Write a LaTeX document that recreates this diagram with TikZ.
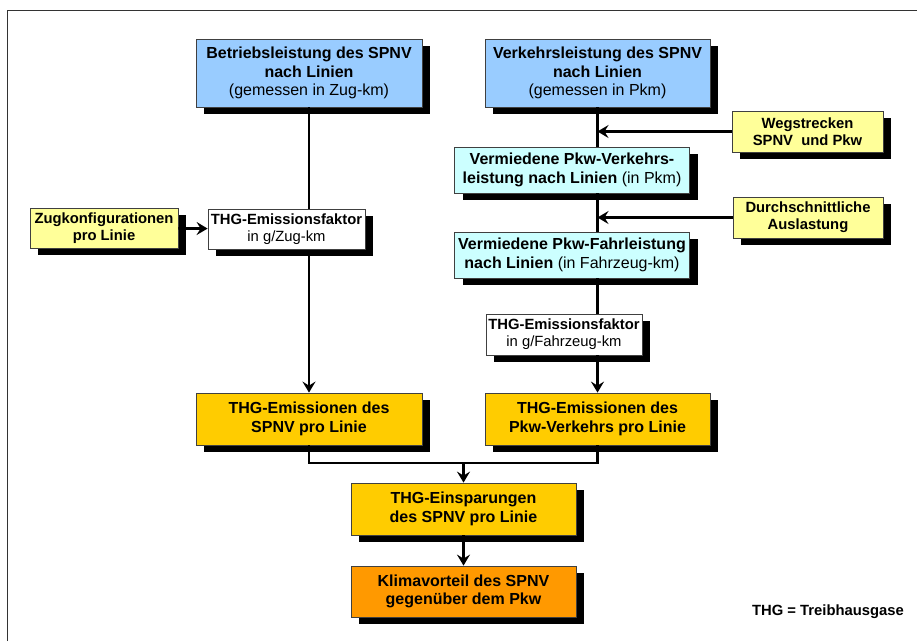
\documentclass[tikz,border=0pt]{standalone}
\usepackage{fontspec}
\setmainfont{Liberation Sans}
\usetikzlibrary{arrows.meta,shadows}

\newcommand{\bigf}{\fontsize{16}{18.5}\selectfont}
\newcommand{\smallf}{\fontsize{14.8}{17}\selectfont}

\definecolor{lblue}{HTML}{99CCFF}
\definecolor{lcyan}{HTML}{CCFFFF}
\definecolor{lyellow}{HTML}{FFFF99}
\definecolor{gold}{HTML}{FFCC00}
\definecolor{dorange}{HTML}{FF9900}

\tikzset{
  box/.style={draw=black!75, line width=0.8pt, align=center, inner sep=0pt,
    font=\bigf, drop shadow={shadow xshift=8pt, shadow yshift=-7pt, opacity=1, fill=black}},
  small/.style={box, font=\smallf},
  flow/.style={line width=2.6pt},
  arr/.style={flow, -{Stealth[length=11pt, width=13pt, inset=4pt]}}
}

\begin{document}
\begin{tikzpicture}[x=1pt, y=-1pt]
    \useasboundingbox (0,0) rectangle (917,641);

    % Frame
    \draw[line width=1pt, black!80] (7,641) -- (7,10) -- (917,10);

    % Lines (behind boxes)
    \coordinate (mergeL) at (309,463);
    \coordinate (mergeR) at (597.5,463);
    \coordinate (mergeM) at (463.5,463);

    % Left column
    \node[box, fill=lblue, minimum width=226pt, minimum height=68pt] (bl) at (309,73)
      {\textbf{Betriebsleistung des SPNV}\\ \textbf{nach Linien}\\ (gemessen in Zug-km)};
    \node[box, fill=gold, minimum width=226pt, minimum height=52pt] (ems) at (309,419)
      {\textbf{THG-Emissionen des}\\ \textbf{SPNV pro Linie}};
    \draw[arr] (bl) -- (ems);
    \node[small, fill=white, minimum width=157pt, minimum height=40pt] (efz) at (286.5,229)
      {\textbf{THG-Emissionsfaktor}\\ in g/Zug-km};
    \node[small, fill=lyellow, minimum width=148pt, minimum height=40pt] (zug) at (104,228)
      {\textbf{Zugkonfigurationen}\\ \textbf{pro Linie}};
    \draw[arr] (zug) -- (efz);

    % Right column
    \node[box, fill=lblue, minimum width=225pt, minimum height=68pt] (vl) at (597.5,73)
      {\textbf{Verkehrsleistung des SPNV}\\ \textbf{nach Linien}\\ (gemessen in Pkm)};
    \node[box, fill=lcyan, minimum width=235pt, minimum height=46pt] (vpv) at (572,170)
      {\textbf{Vermiedene Pkw-Verkehrs-}\\ \textbf{leistung nach Linien} (in Pkm)};
    \node[box, fill=lcyan, minimum width=235pt, minimum height=46pt] (vpf) at (572,255)
      {\textbf{Vermiedene Pkw-Fahrleistung}\\ \textbf{nach Linien} (in Fahrzeug-km)};
    \node[small, fill=white, minimum width=156pt, minimum height=41pt] (efp) at (564,334.5)
      {\textbf{THG-Emissionsfaktor}\\ in g/Fahrzeug-km};
    \node[box, fill=gold, minimum width=225pt, minimum height=52pt] (emp) at (597.5,419)
      {\textbf{THG-Emissionen des}\\ \textbf{Pkw-Verkehrs pro Linie}};
    \draw[flow] (vl) -- (vl |- vpv.north);
    \draw[flow] (vl |- vpv.south) -- (vl |- vpf.north);
    \draw[flow] (vl |- vpf.south) -- (vl |- efp.north);
    \draw[arr] (vl |- efp.south) -- (emp);

    % Inputs on the right
    \node[small, fill=lyellow, minimum width=151pt, minimum height=41pt] (weg) at (807.5,131.5)
      {\textbf{Wegstrecken}\\ \textbf{SPNV\ \ und Pkw}};
    \node[small, fill=lyellow, minimum width=150pt, minimum height=41pt] (ausl) at (808,217.5)
      {\textbf{Durchschnittliche}\\ \textbf{Auslastung}};
    \draw[arr] (weg) -- (vl |- weg);
    \draw[arr] (ausl) -- (vl |- ausl);

    % Merge
    \node[box, fill=gold, minimum width=225pt, minimum height=52pt] (eins) at (463.5,509)
      {\textbf{THG-Einsparungen}\\ \textbf{des SPNV pro Linie}};
    \node[box, fill=dorange, minimum width=225pt, minimum height=51pt] (klima) at (463.5,591.5)
      {\textbf{Klimavorteil des SPNV}\\ \textbf{gegenüber dem Pkw}};
    \draw[flow] (ems) -- (mergeL) -- (mergeR) -- (emp);
    \draw[arr] (mergeM) -- (eins);
    \draw[arr] (eins) -- (klima);

    % Legend
    \node[font=\smallf\bfseries] (legend) at (828,612) {THG = Treibhausgase};
\end{tikzpicture}
\end{document}
